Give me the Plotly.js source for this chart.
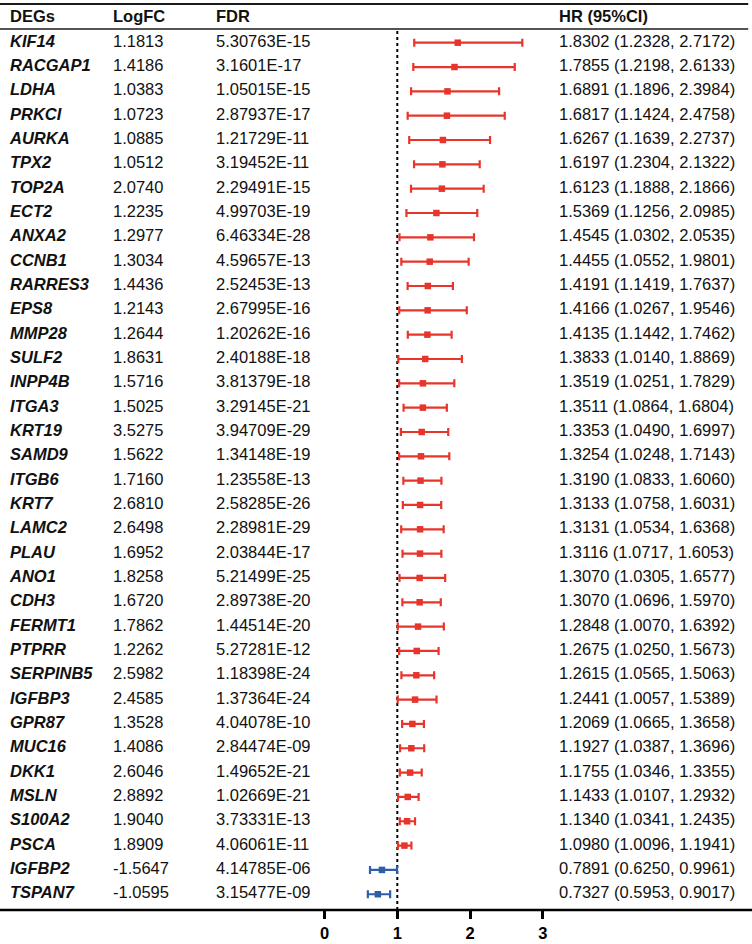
<!DOCTYPE html>
<html>
<head>
<meta charset="utf-8">
<script src="https://cdn.plot.ly/plotly-3.0.1.min.js"></script>
<style>html,body{margin:0;padding:0;background:#fff;}#chart{width:752px;height:944px;}</style>
</head>
<body>
<div id="chart"></div>
<script>
const genes = ['KIF14','RACGAP1','LDHA','PRKCI','AURKA','TPX2','TOP2A','ECT2','ANXA2','CCNB1','RARRES3','EPS8','MMP28','SULF2','INPP4B','ITGA3','KRT19','SAMD9','ITGB6','KRT7','LAMC2','PLAU','ANO1','CDH3','FERMT1','PTPRR','SERPINB5','IGFBP3','GPR87','MUC16','DKK1','MSLN','S100A2','PSCA','IGFBP2','TSPAN7'];
const logFC = ['1.1813','1.4186','1.0383','1.0723','1.0885','1.0512','2.0740','1.2235','1.2977','1.3034','1.4436','1.2143','1.2644','1.8631','1.5716','1.5025','3.5275','1.5622','1.7160','2.6810','2.6498','1.6952','1.8258','1.6720','1.7862','1.2262','2.5982','2.4585','1.3528','1.4086','2.6046','2.8892','1.9040','1.8909','-1.5647','-1.0595'];
const fdr = ['5.30763E-15','3.1601E-17','1.05015E-15','2.87937E-17','1.21729E-11','3.19452E-11','2.29491E-15','4.99703E-19','6.46334E-28','4.59657E-13','2.52453E-13','2.67995E-16','1.20262E-16','2.40188E-18','3.81379E-18','3.29145E-21','3.94709E-29','1.34148E-19','1.23558E-13','2.58285E-26','2.28981E-29','2.03844E-17','5.21499E-25','2.89738E-20','1.44514E-20','5.27281E-12','1.18398E-24','1.37364E-24','4.04078E-10','2.84474E-09','1.49652E-21','1.02669E-21','3.73331E-13','4.06061E-11','4.14785E-06','3.15477E-09'];
const hr = [1.8302,1.7855,1.6891,1.6817,1.6267,1.6197,1.6123,1.5369,1.4545,1.4455,1.4191,1.4166,1.4135,1.3833,1.3519,1.3511,1.3353,1.3254,1.3190,1.3133,1.3131,1.3116,1.3070,1.3070,1.2848,1.2675,1.2615,1.2441,1.2069,1.1927,1.1755,1.1433,1.1340,1.0980,0.7891,0.7327];
const ciLow = [1.2328,1.2198,1.1896,1.1424,1.1639,1.2304,1.1888,1.1256,1.0302,1.0552,1.1419,1.0267,1.1442,1.0140,1.0251,1.0864,1.0490,1.0248,1.0833,1.0758,1.0534,1.0717,1.0305,1.0696,1.0070,1.0250,1.0565,1.0057,1.0665,1.0387,1.0346,1.0107,1.0341,1.0096,0.6250,0.5953];
const ciHigh = [2.7172,2.6133,2.3984,2.4758,2.2737,2.1322,2.1866,2.0985,2.0535,1.9801,1.7637,1.9546,1.7462,1.8869,1.7829,1.6804,1.6997,1.7143,1.6060,1.6031,1.6368,1.6053,1.6577,1.5970,1.6392,1.5673,1.5063,1.5389,1.3658,1.3696,1.3355,1.2932,1.2435,1.1941,0.9961,0.9017];
const headers = ['DEGs','LogFC','FDR','HR (95%CI)'];
const xTicks = [0,1,2,3];

const FONT = 'Liberation Sans, Arial, sans-serif';
const RED = '#e8352b';
const BLUE = '#2e5ea8';
const rows = genes.map((g,i)=>i);
const colX = [10,113,216,559]; // pixel columns on helper axis

function textTrace(xpos, ys, texts, bold){
  return {type:'scatter', mode:'text', xaxis:'x2', yaxis:'y',
    x: ys.map(()=>xpos), y: ys, text: texts, textposition:'middle right',
    textfont:{family:FONT, size:16.5, color:'#111', weight: bold?'bold':'normal'},
    hoverinfo:'skip', showlegend:false, cliponaxis:false};
}

const traces = [];
headers.forEach((h,k)=>traces.push(textTrace(colX[k],[-1],[h],true)));
traces.push(textTrace(colX[0], rows, genes.map(g=>'<b><i>'+g+'</i></b>'), true));
traces.push(textTrace(colX[1], rows, logFC, false));
traces.push(textTrace(colX[2], rows, fdr, false));
traces.push(textTrace(colX[3], rows, hr.map((v,i)=>v.toFixed(4)+' ('+ciLow[i].toFixed(4)+', '+ciHigh[i].toFixed(4)+')'), false));

function forestTrace(filterFn, color){
  const idx = rows.filter(filterFn);
  return {type:'scatter', mode:'markers', xaxis:'x', yaxis:'y',
    x: idx.map(i=>hr[i]), y: idx,
    marker:{symbol:'square', size:6.5, color:color},
    error_x:{type:'data', symmetric:false,
      array: idx.map(i=>ciHigh[i]-hr[i]), arrayminus: idx.map(i=>hr[i]-ciLow[i]),
      color:color, thickness:2.2, width:4},
    hoverinfo:'skip', showlegend:false, cliponaxis:false};
}
traces.push(forestTrace(i=>hr[i]>=1, RED));
traces.push(forestTrace(i=>hr[i]<1, BLUE));

const H = 944, W = 752, B = 34;
const plotH = H - B;
const rowPx = 24.33, row0 = 42.7;
const yTop = -row0/rowPx, yBot = (plotH-row0)/rowPx;
const x0px = 324.5, unitPx = 72.8;

const layout = {
  width: W, height: H,
  margin:{l:0,r:0,t:0,b:B,pad:0},
  paper_bgcolor:'#fff', plot_bgcolor:'rgba(0,0,0,0)',
  showlegend:false,
  xaxis:{domain:[0,1], range:[(0-x0px)/unitPx, (W-x0px)/unitPx],
    tickmode:'array', tickvals:xTicks, ticktext:xTicks.map(String),
    ticks:'outside', ticklen:8, tickwidth:3, tickcolor:'#000',
    showgrid:false, zeroline:false, showline:false,
    tickfont:{family:FONT, size:16.5, color:'#000', weight:'bold'},
    fixedrange:true},
  xaxis2:{domain:[0,1], range:[0,W], anchor:'y', visible:false, fixedrange:true},
  yaxis:{range:[yBot, yTop], visible:false, fixedrange:true},
  shapes:[
    {type:'line', xref:'paper', yref:'paper', x0:0, x1:0.995, y0:1-4/plotH, y1:1-4/plotH, line:{color:'#1a1a1a', width:2}},
    {type:'line', xref:'paper', yref:'paper', x0:0, x1:0.995, y0:1-29/plotH, y1:1-29/plotH, line:{color:'#1a1a1a', width:1.5}},
    {type:'line', xref:'paper', yref:'paper', x0:0, x1:1, y0:0, y1:0, line:{color:'#000', width:2.5}},
    {type:'line', xref:'x', yref:'paper', x0:1, x1:1, y0:0, y1:1-31/plotH, line:{color:'#000', width:2, dash:'dot'}, layer:'below'}
  ]
};
Plotly.newPlot('chart', traces, layout, {staticPlot:true, displayModeBar:false});
</script>
</body>
</html>
